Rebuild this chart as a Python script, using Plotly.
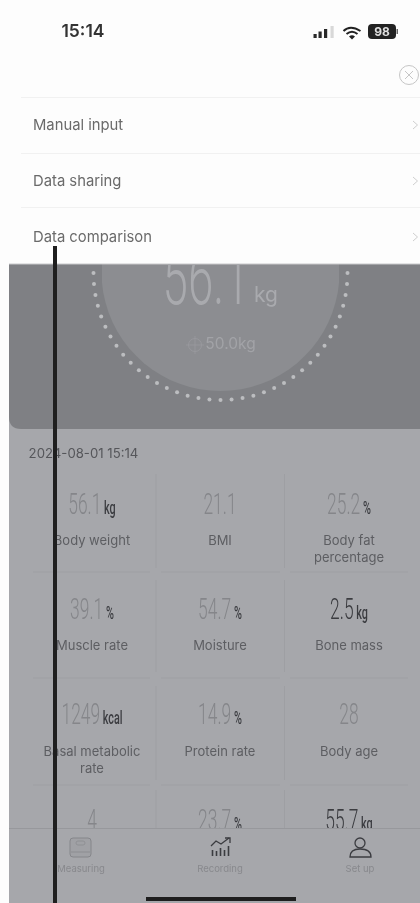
import math
import plotly.graph_objects as go

# ---- content ----
status_time = "15:14"
battery_level = "98"
menu_items = ["Manual input", "Data sharing", "Data comparison"]
main_value = "56.1"
main_unit = "kg"
target_weight = "50.0kg"
record_time = "2024-08-01 15:14"
metric_values = ["56.1", "21.1", "25.2", "39.1", "54.7", "2.5", "1249", "14.9", "28", "4", "23.7", "55.7"]
metric_units = ["kg", "", "%", "%", "%", "kg", "kcal", "%", "", "", "%", "kg"]
metric_labels = ["Body weight", "BMI", "Body fat<br>percentage", "Muscle rate", "Moisture", "Bone mass",
                 "Basal metabolic<br>rate", "Protein rate", "Body age", "", "", ""]
tab_labels = ["Measuring", "Recording", "Set up"]

# ---- style ----
SANS = "Inter, 'Noto Sans', sans-serif"
NARROW = "Roboto, 'Liberation Sans', sans-serif"
DARK_PANEL = "#7f8084"
DISC = "#8c8d91"
PANEL = "#a6a7ab"
RULE = "#9e9fa3"
VAL = "#85868a"
INK = "#3b3c40"
LBL = "#5d5e62"
dark_value_idx = {5, 11}

col_x = [92, 220, 349]
val_y = [507, 612, 717, 823]
lbl_y = [542, 647, 753]

fig = go.Figure()


def txt(x, y, s, size, color, pos="middle center", family=SANS, weight=None, sub=False):
    fig.add_trace(go.Scatter(
        x=[x], y=[y], text=[s], mode="text", textposition=pos, hoverinfo="skip", showlegend=False,
        textfont=dict(size=size, color=color, family=family, weight=weight or "normal"),
        xaxis="x2" if sub else "x", yaxis="y2" if sub else "y", cliponaxis=True))


def rrect(x0, y0, x1, y1, r):
    return (f"M{x0+r},{y0} L{x1-r},{y0} Q{x1},{y0} {x1},{y0+r} L{x1},{y1-r} Q{x1},{y1} {x1-r},{y1} "
            f"L{x0+r},{y1} Q{x0},{y1} {x0},{y1-r} L{x0},{y0+r} Q{x0},{y0} {x0+r},{y0} Z")


shapes = []


def rect(x0, y0, x1, y1, fill):
    shapes.append(dict(type="rect", x0=x0, y0=y0, x1=x1, y1=y1, fillcolor=fill, line_width=0, layer="below"))


def line(x0, y0, x1, y1, color, w=1):
    shapes.append(dict(type="line", x0=x0, y0=y0, x1=x1, y1=y1, line=dict(color=color, width=w), layer="below"))


def path(d, fill="rgba(0,0,0,0)", color="rgba(0,0,0,0)", w=0):
    shapes.append(dict(type="path", path=d, fillcolor=fill, line=dict(color=color, width=w), layer="below"))


def circ(cx, cy, r, fill="rgba(0,0,0,0)", color="rgba(0,0,0,0)", w=0):
    shapes.append(dict(type="circle", x0=cx-r, x1=cx+r, y0=cy-r, y1=cy+r, fillcolor=fill,
                       line=dict(color=color, width=w), layer="below"))


# panels
rect(9, 264, 420, 903, PANEL)
path("M9,264 L420,264 L420,429 L21,429 Q9,429 9,417 Z", fill=DARK_PANEL)
disc_deg = list(range(-85, 86, 5))
path("M" + " L".join(f"{220.5 + 119 * math.sin(math.radians(a)):.1f},{272 + 119 * math.cos(math.radians(a)):.1f}"
                     for a in disc_deg) + " L339,264 L102,264 Z", fill=DISC)
rect(9, 263.4, 420, 264.6, "#c9cacc")

# menu rules
for yy in (97.5, 153.5, 207.5):
    line(21, yy, 420, yy, "#f1f1f1")
for i, yy in enumerate((126, 182, 238)):
    txt(33, yy, menu_items[i], 14.8, "#6a6a6a", pos="middle right")
    path(f"M413,{yy-5} L417.5,{yy-1} L413,{yy+3}", color="#cfcfcf", w=1)

# close icon
circ(409, 75, 9.5, color="#c6c6c6", w=1)
line(405, 71, 413, 79, "#c6c6c6")
line(413, 71, 405, 79, "#c6c6c6")

# status bar
txt(83, 33, status_time, 17.5, "#333333", weight=600)
for bx, h, c in ((313.5, 4, "#2a2a2a"), (318.5, 6.5, "#2a2a2a"), (324, 9, "#2a2a2a"), (330.5, 12, "#d8d8d8")):
    rect(bx, 38 - h, bx + 3.2, 38, c)
path("M343.5,31 Q350,24.5 360.5,31", color="#222222", w=2)
path("M346.5,34 Q352,29.5 357.5,34", color="#222222", w=2)
path("M349,36.5 L352,39.5 L355,36.5 Q352,34 349,36.5 Z", fill="#222222")
path(rrect(368, 24, 396, 39, 4), fill="#222222")
rect(396.5, 29, 398, 34, "#666666")
txt(382, 33, battery_level, 12, "#e0e0e0", weight=700)

# ring of dots, 5 degrees apart
ring_deg = list(range(-90, 91, 5))
fig.add_trace(go.Scatter(
    x=[220.5 + 127 * math.sin(math.radians(a)) for a in ring_deg],
    y=[273 + 127 * math.cos(math.radians(a)) for a in ring_deg],
    mode="markers", marker=dict(size=4, color="#bcbdc0"), hoverinfo="skip", showlegend=False,
    xaxis="x2", yaxis="y2"))

# main reading
txt(206, 285, main_value, 76, "#a9aaae", family=NARROW, weight=300, sub=True)
txt(266, 297, main_unit, 21, "#a9aaae", sub=True)
circ(195, 345, 6.5, color="#9a9ba0", w=0.8)
line(186, 345, 204, 345, "#9a9ba0", 0.8)
line(195, 336, 195, 354, "#9a9ba0", 0.8)
txt(230.5, 345, target_weight, 15.5, "#a2a3a7", sub=True)

# date
txt(83.5, 455, record_time, 13.2, "#55565a", sub=True)

# metric grid
for yy in (572, 678, 785):
    for a, b in ((33, 150), (161, 280), (290, 408)):
        line(a, yy, b, yy, RULE)
for a, b in ((474, 568), (580, 672), (686, 780), (790, 828)):
    for xx in (156, 284.5):
        line(xx, a, xx, b, RULE)

for i, v in enumerate(metric_values):
    col, row = i % 3, i // 3
    color = INK if i in dark_value_idx else VAL
    u = metric_units[i]
    s = v if not u else f"{v}<span style='font-size:18px;font-weight:500;color:{INK}'> {u}</span>"
    txt(col_x[col], val_y[row], s, 29, color, family=NARROW, weight=300, sub=True)
    if row < 3 and metric_labels[i]:
        off = 8 if "<br>" in metric_labels[i] else 0
        txt(col_x[col], lbl_y[row] + off, metric_labels[i], 13, LBL, sub=True)

# tab bar
line(9, 828.5, 420, 828.5, "#97989c")
path(rrect(70, 838, 91, 857, 3), fill="#a0a1a5", color="#85868a", w=1)
line(71, 852, 90, 852, "#8c8d91")
path(rrect(76, 841, 85, 845, 2), color="#8c8d91", w=0.8)
for bx, top in ((212.5, 850), (216.5, 851), (220.5, 848), (224.5, 850), (228.5, 846)):
    line(bx, top, bx, 856, "#3b3c40", 1.6)
path("M211,846 L216,841 L221,844 L229,838", color="#3b3c40", w=1.3)
path("M225,838 L230,838 L230,843", color="#3b3c40", w=1.3)
circ(360, 843, 5, color="#3b3c40", w=1.3)
path("M350,857 Q350,849 360,849 Q371,849 371,857 Z", color="#3b3c40", w=1.3)
for x, s in zip((81, 220, 360), tab_labels):
    txt(x, 870, s, 9.5, "#88898d")
rect(146, 897, 296, 901, "#1e1e1e")
shapes.append(dict(type="line", x0=55, x1=55, y0=246, y1=903, line=dict(color="#1f1f1f", width=4), layer="above"))

ax = dict(visible=False, fixedrange=True)
fig.update_layout(
    width=420, height=903, margin=dict(l=0, r=0, t=0, b=0), paper_bgcolor="#fdfdfd", plot_bgcolor="rgba(0,0,0,0)",
    showlegend=False, shapes=shapes,
    xaxis=dict(range=[0, 420], domain=[0, 1], **ax),
    yaxis=dict(range=[903, 0], domain=[0, 1], **ax),
    xaxis2=dict(range=[0, 420], domain=[0, 1], anchor="y2", **ax),
    yaxis2=dict(range=[828, 264], domain=[(903 - 828) / 903, (903 - 264) / 903], anchor="x2", **ax),
)
squeeze = """
document.body.style.margin='0';
document.documentElement.style.overflow='hidden';
document.querySelectorAll('.textpoint text').forEach(function(t){
  if(t.style.fontFamily.indexOf('Roboto')<0) return;
  var b=t.getBBox(), c=b.x+b.width/2;
  t.setAttribute('transform','translate('+c+' 0) scale(0.6 1) translate('+(-c)+' 0)');
});
document.querySelector('.plotly-graph-div').style.filter='blur(0.6px)';
"""
fig.write_html("out.html", post_script=squeeze, config=dict(displayModeBar=False, staticPlot=True))
